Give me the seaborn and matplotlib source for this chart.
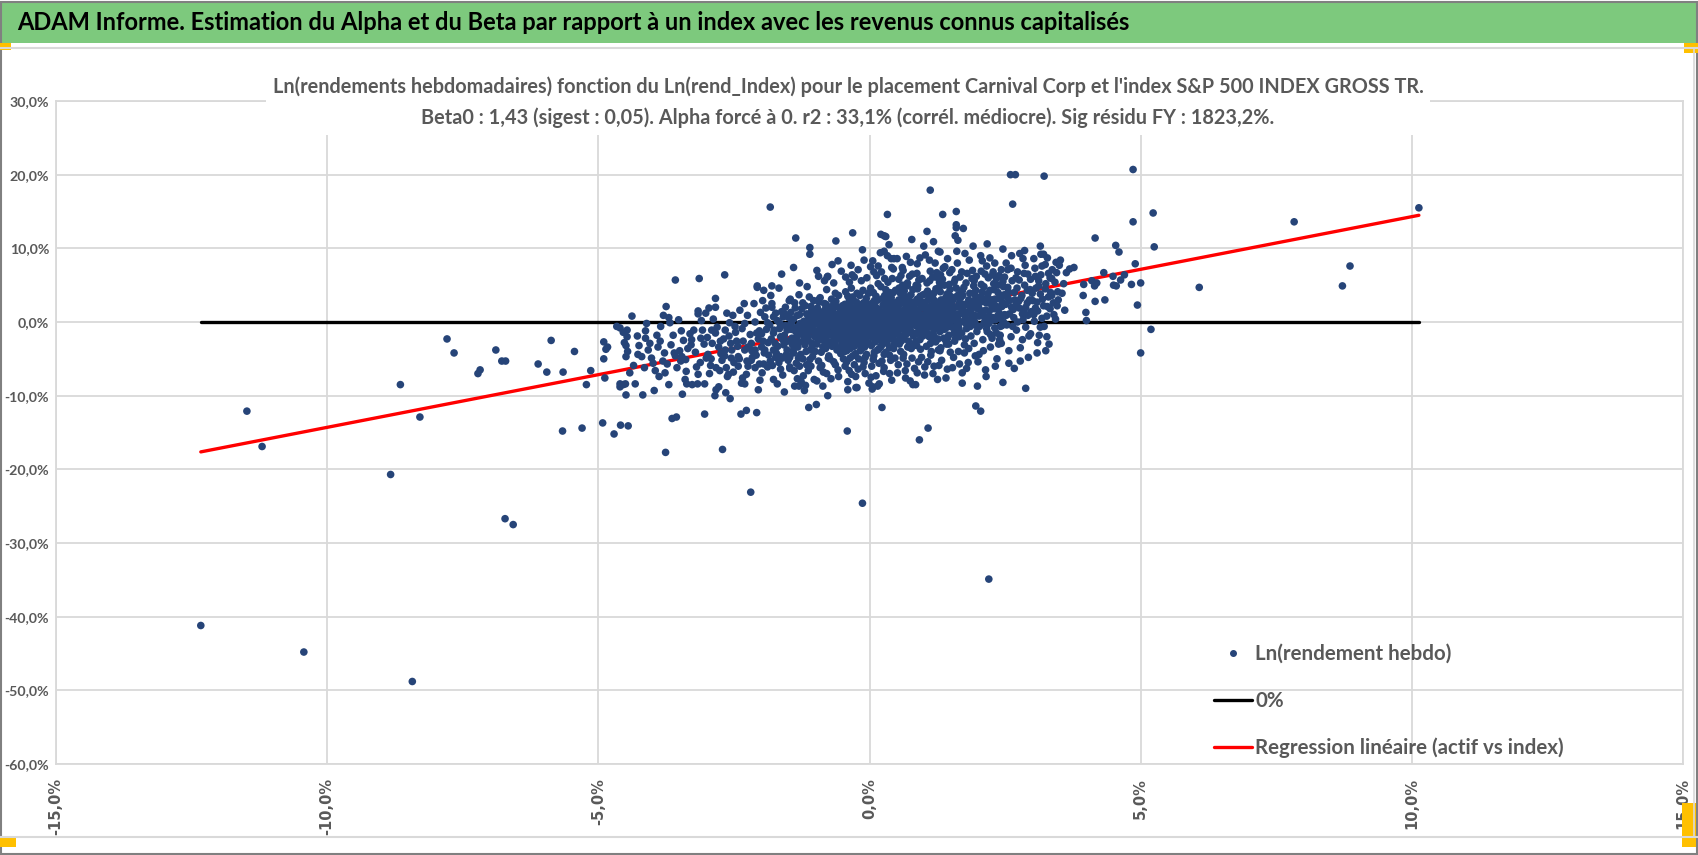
import matplotlib
matplotlib.use('Agg')
import matplotlib.pyplot as plt
import seaborn as sns
import pandas as pd
from matplotlib.patches import Rectangle
from matplotlib.lines import Line2D
from matplotlib.ticker import FuncFormatter, MultipleLocator

sns.set_theme(style='white')
plt.rcParams['font.family'] = ['Lato', 'DejaVu Sans']

# weekly log returns in %, (index, asset)
left_tail = [
    (-12.33, -41.2), (-10.43, -44.8), (-8.43, -48.8), (-11.48, -12.1), (-11.20, -16.9),
    (-8.83, -20.7), (-8.65, -8.5), (-8.29, -12.9), (-7.79, -2.3), (-7.66, -4.2),
    (-7.22, -7.0), (-7.18, -6.5), (-6.89, -3.8), (-6.78, -5.3), (-6.71, -5.3),
    (-6.72, -26.7), (-6.57, -27.5), (-6.11, -5.7), (-5.95, -6.8), (-5.87, -2.5),
    (-5.65, -6.8), (-5.66, -14.8), (-5.44, -4.0), (-5.30, -14.4), (-5.22, -8.5),
    (-5.14, -6.6), (-4.92, -13.7), (-4.90, -2.7), (-4.90, -5.0), (-4.88, -7.6),
    (-4.86, -3.7), (-4.83, -3.4), (-4.71, -15.2), (-4.66, -0.6), (-4.60, -0.8),
    (-4.59, -14.0), (-4.60, -8.4), (-4.60, -8.8), (-4.54, -8.5), (-4.54, -1.4),
    (-4.52, -2.8), (-4.49, -3.2), (-4.49, -4.7), (-4.49, -9.9), (-4.47, -1.1),
    (-4.47, -2.0), (-4.46, -4.0), (-4.45, -14.1),
]

right_tail = [
    (4.86, 20.7), (10.13, 15.5), (7.83, 13.6), (5.23, 14.8), (4.86, 13.6), (5.25, 10.2),
    (4.16, 11.4), (4.54, 10.4), (4.60, 9.5), (8.86, 7.6), (8.72, 4.9), (6.08, 4.7),
    (4.90, 7.9), (5.00, 5.3), (4.83, 5.1), (4.94, 2.3), (5.19, -1.0), (5.00, -4.2),
    (4.70, 6.4), (4.63, 5.7), (4.49, 6.2), (4.50, 5.0), (4.55, 4.9), (4.32, 6.7),
    (4.34, 3.0), (4.16, 2.8), (4.15, 4.9), (4.19, 5.3), (4.10, 5.6), (3.95, 5.1),
    (3.94, 3.6), (3.99, 1.3), (4.00, 0.2), (3.77, 7.4), (3.69, 7.2), (3.63, 6.7),
    (3.44, 8.1), (3.47, 4.1), (3.48, 3.0), (3.43, 0.4),
]

upper_fringe = [
    (2.60, 20.0), (2.69, 20.0), (3.22, 19.8), (2.64, 16.0), (1.12, 17.9), (-1.83, 15.6),
    (0.33, 14.6), (1.35, 14.6), (1.60, 15.0), (1.60, 13.2), (1.60, 12.8), (1.73, 12.7),
    (-1.36, 11.4), (-0.62, 11.0), (-0.31, 12.1), (0.21, 11.9), (0.27, 11.7), (0.30, 11.6),
    (0.78, 11.2), (1.06, 12.3), (1.58, 11.7), (1.63, 11.1), (-1.10, 10.1), (-1.10, 9.2),
    (-1.40, 7.4), (0.20, 9.4), (0.27, 9.6), (0.40, 8.6), (0.45, 8.6), (1.00, 10.3),
    (1.27, 9.6), (1.30, 9.5), (1.91, 10.3), (2.17, 10.6), (3.15, 10.3), (3.16, 9.2),
    (-3.58, 5.7), (-3.14, 5.9), (-2.67, 6.4), (-2.07, 4.7), (-1.67, 4.6), (-0.94, 6.2),
    (-0.77, 6.2), (-0.44, 6.1), (-0.28, 6.1), (-0.10, 8.4),
]

upper_mid = [
    (-0.97, 7.0), (-0.83, 5.6), (-0.69, 7.8), (-0.52, 6.9), (-0.37, 5.4), (-0.21, 7.1),
    (-0.05, 6.0), (0.08, 6.8), (0.16, 7.6), (0.28, 5.9), (0.41, 7.4), (0.51, 8.6),
    (0.58, 6.3), (0.68, 8.9), (0.79, 6.5), (0.88, 7.9), (0.97, 5.9), (1.03, 9.1),
    (1.12, 6.9), (1.21, 8.0), (1.31, 6.4), (1.44, 8.6), (1.52, 7.1), (1.61, 9.6),
    (1.70, 6.8), (1.84, 8.4), (1.97, 6.2), (2.05, 9.0), (2.16, 7.6), (2.31, 8.0),
    (2.39, 6.3), (2.55, 7.1), (2.62, 9.0), (2.70, 6.0), (2.83, 8.6), (2.92, 6.5),
    (3.05, 7.3), (3.12, 5.6), (3.24, 7.8), (3.36, 5.9), (3.45, 6.7), (3.52, 8.4),
    (3.58, 5.2), (-1.29, 5.3), (-1.62, 6.5),
    (-0.58, 8.3), (-0.13, 9.8), (0.36, 10.5), (0.62, 7.0), (0.93, 8.7), (1.18, 10.9),
    (1.48, 6.7), (1.76, 9.3), (2.08, 8.3), (2.46, 9.9), (2.86, 9.7), (3.28, 8.7),
    (0.02, 7.5), (-0.34, 7.7), (1.36, 7.3),
]

lower_fringe = [
    (-4.18, -9.9), (-4.50, -8.4), (-4.32, -8.4), (-3.70, -8.5), (-3.37, -8.4), (-3.27, -8.5),
    (-3.17, -8.4), (-2.85, -10.0), (-2.83, -9.2), (-2.57, -10.4), (-2.30, -8.4), (-1.70, -8.4),
    (-1.38, -8.7), (-1.30, -8.7), (-1.20, -9.3), (-1.18, -8.6), (-0.77, -10.0), (-0.40, -9.2),
    (-0.25, -8.9), (-0.23, -8.9), (0.05, -9.1), (0.06, -8.8), (0.80, -8.5), (0.85, -8.5),
    (1.99, -8.7), (2.88, -9.0), (2.46, -8.2), (1.71, -8.3), (-3.76, -17.7), (-3.64, -13.1),
    (-3.56, -12.9), (-3.04, -12.5), (-2.71, -17.3), (-2.37, -12.5), (-2.27, -12.0),
    (-2.08, -12.3), (-2.19, -23.1), (-1.12, -11.6), (-0.98, -11.2), (-0.41, -14.8),
    (-0.13, -24.6), (0.23, -11.6), (0.92, -16.0), (1.08, -14.4), (1.96, -11.4),
    (2.05, -12.1), (2.20, -34.9), (-3.04, -8.4), (-0.86, -8.7), (0.15, -8.7),
]

lower_mid = [
    (-2.93, -5.9), (-2.76, -6.6), (-2.55, -4.9), (-2.34, -7.6), (-2.18, -5.2), (-2.02, -7.9),
    (-1.88, -6.1), (-1.73, -4.8), (-1.60, -7.2), (-1.47, -6.1), (-1.33, -7.7), (-1.23, -5.0),
    (-1.13, -6.6), (-1.02, -7.8), (-0.91, -6.2), (-0.79, -7.0), (-0.66, -5.4), (-0.57, -7.4),
    (-0.45, -6.0), (-0.33, -7.1), (-0.21, -6.4), (-0.08, -7.0), (0.04, -6.0), (0.12, -7.3),
    (0.27, -6.2), (0.41, -7.9), (0.53, -5.8), (0.66, -6.6), (0.75, -8.0), (0.88, -6.9),
    (1.02, -6.1), (1.17, -7.0), (1.28, -5.9), (1.41, -7.6), (1.55, -4.8), (1.66, -5.7),
    (1.79, -6.3), (2.00, -5.4), (2.15, -7.4), (2.32, -6.0), (2.57, -3.9), (2.78, -5.3),
    (3.10, -2.8), (3.25, -3.9),
]

mid_left = [
    (-2.07, 4.9), (-1.95, 4.3), (-1.80, 4.9), (-2.84, 3.2), (-2.84, 2.0), (-2.96, 1.9),
    (-3.02, 1.2), (-3.16, 1.5), (-3.16, 1.1), (-3.75, 2.1), (-3.80, 0.9), (-3.70, 0.6),
    (-2.31, 2.5), (-2.13, 2.5), (-1.97, 2.9), (-1.80, 2.5), (-1.80, 2.0), (-1.55, 2.0),
    (-2.63, 1.2), (-2.52, 0.9), (-4.13, -1.2), (-4.13, -2.2), (-4.25, -3.2), (-4.08, -3.8),
    (-4.20, -4.7), (-3.95, -6.6), (-3.16, -7.1), (-3.43, -2.5), (-3.28, -2.4), (-3.24, -1.1),
    (-3.08, -1.1), (-3.46, -4.7), (-3.60, -4.2), (-3.78, -4.2), (-3.81, -5.3), (-3.48, -5.3),
    (-2.95, -7.0), (-2.78, -8.8), (-2.60, -7.1), (-2.62, -7.4), (-2.42, -6.0), (-2.36, -8.3),
    (-2.24, -6.0), (-2.11, -6.2), (-1.95, -5.7), (-1.83, -5.3), (-1.64, -6.4), (-1.77, -7.8),
    (-1.29, -6.0), (-1.26, -8.1), (-2.90, -2.9), (-2.78, -3.4), (-2.66, -3.8), (-2.54, -3.8),
    (-2.42, -4.7), (-2.30, -3.8), (-2.24, -3.4), (-2.11, -3.8), (-1.99, -3.4), (-1.93, -3.8),
    (-2.84, -1.5), (-2.66, -1.1), (-2.48, -0.6), (-2.30, -0.2), (-2.11, 0.0), (-1.77, -1.5),
    (-1.64, -2.0), (-1.52, -1.1), (-1.46, -0.4), (-1.40, -2.5), (-1.28, -1.5), (-1.52, -3.8),
    (-1.40, -4.2), (-1.64, -4.7), (-1.77, -3.8), (-1.93, 0.7), (-1.77, 0.7), (-1.59, 0.7),
    (-4.35, -5.9), (-4.05, -2.9), (-3.92, -1.8), (-3.88, -7.4), (-3.66, -3.1), (-3.55, -6.2),
    (-3.52, 0.3), (-3.40, -7.8), (-3.35, -3.6), (-3.12, -5.5), (-3.05, -3.0), (-2.98, -4.4),
    (-2.88, 0.4), (-2.72, -5.2), (-2.69, -2.3), (-2.58, -0.1), (-2.50, -5.5), (-2.45, -2.6),
    (-2.39, 1.6), (-2.27, -7.1), (-2.20, -1.7), (-2.16, -4.8), (-2.05, -2.3), (-2.01, 1.3),
    (-1.98, -6.9), (-1.90, -1.0), (-1.86, -4.5), (-1.82, 3.6), (-1.74, -2.9), (-1.70, 0.2),
    (-1.67, -5.5), (-1.62, 1.4), (-1.58, -3.1), (-1.55, -0.5), (-1.50, -5.2), (-1.48, 2.9),
    (-4.42, -6.9), (-4.28, -1.9), (-4.15, -6.2), (-4.02, -4.9), (-3.90, -3.4), (-3.85, -0.6),
    (-3.73, -5.7), (-3.62, -1.8), (-3.50, -3.9), (-3.38, -6.7), (-3.31, -1.6), (-3.21, -4.1),
    (-3.10, 0.2), (-2.99, -2.1), (-2.92, -5.0), (-2.81, -0.7), (-2.74, -4.3), (-2.64, -6.2),
    (-2.56, -2.9), (-2.47, -1.4), (-2.40, -5.0), (-2.33, -2.6), (-2.25, 0.9), (-2.18, -2.9),
    (-2.09, -4.5), (-2.03, -1.2), (-1.96, -2.6), (-1.88, -0.1), (-1.81, -2.3), (-1.72, -4.2),
    (-1.66, -0.9), (-1.60, -2.4), (-1.53, -4.4), (-1.49, 0.6), (-3.97, -9.3), (-3.45, -9.8),
    (-2.65, -9.6), (-2.05, -9.2), (-1.57, -9.5), (-4.38, 0.8),
    (-4.27, -4.4), (-4.11, -0.2), (-3.99, -5.6), (-3.86, -2.6), (-3.77, -6.9), (-3.68, -0.1),
    (-3.58, -4.6), (-3.47, -1.2), (-3.39, -5.1), (-3.29, -3.1), (-3.19, -6.1), (-3.11, -2.2),
    (-3.01, -4.9), (-2.91, -1.1), (-2.83, -6.2), (-2.75, -2.6), (-2.67, -4.6), (-2.59, -1.9),
    (-2.51, -6.8), (-2.43, -3.3), (-2.35, -0.9), (-2.26, -5.3), (-2.17, -3.9), (-2.08, -1.5),
    (-2.03, -5.7),
]

core_a = [
    (-1.48, -0.6), (-1.45, 1.3), (-1.43, -2.2), (-1.41, -3.9), (-1.40, 0.4), (-1.38, 2.6),
    (-1.36, -1.3), (-1.35, -5.6), (-1.33, 0.9), (-1.31, -2.8), (-1.30, 3.7), (-1.28, -0.2),
    (-1.27, -4.4), (-1.25, 1.8), (-1.24, -1.7), (-1.22, -7.3), (-1.21, 0.1), (-1.19, -3.1),
    (-1.18, 2.2), (-1.16, -0.9), (-1.15, 4.8), (-1.13, -2.5), (-1.12, 0.6), (-1.10, -5.1),
    (-1.09, -1.1), (-1.07, 1.5), (-1.06, -3.5), (-1.04, -0.4), (-1.03, 2.9), (-1.01, -2.0),
    (-1.47, -4.8), (-1.44, -1.0), (-1.39, -6.6), (-1.34, -0.7), (-1.29, 1.0), (-1.23, -2.6),
    (-1.17, -4.0), (-1.14, 0.3), (-1.08, -6.0), (-1.02, 0.8), (-1.46, 3.1), (-1.32, -3.4),
    (-1.20, -1.5), (-1.11, 3.4), (-1.05, -4.7),
    (-1.99, -1.6), (-1.94, -4.2), (-1.91, 1.9), (-1.87, -2.8), (-1.84, -0.4), (-1.79, -5.9),
    (-1.76, -1.1), (-1.73, 1.2), (-1.69, -3.3), (-1.65, -0.2), (-1.61, -4.9), (-1.57, -1.8),
    (-1.54, 1.0), (-1.51, -2.6), (-1.47, -6.3), (-1.44, -0.1), (-1.42, -3.1), (-1.37, 1.9),
    (-1.34, -2.0), (-1.31, -4.9), (-1.26, -0.9), (-1.23, 2.6), (-1.19, -2.2), (-1.16, -5.8),
    (-1.12, -0.1), (-1.09, -3.8), (-1.05, 1.2), (-1.02, -1.4),
]

core_b = [
    (-0.99, -1.2), (-0.98, 0.5), (-0.97, -3.0), (-0.96, 1.9), (-0.95, -0.3), (-0.94, -5.3),
    (-0.93, 0.9), (-0.92, -1.9), (-0.91, 3.3), (-0.90, -0.8), (-0.89, -4.1), (-0.88, 0.2),
    (-0.87, -2.4), (-0.86, 1.4), (-0.85, -6.8), (-0.84, -0.5), (-0.83, 2.5), (-0.82, -1.5),
    (-0.81, -3.6), (-0.80, 0.6), (-0.79, 4.4), (-0.78, -0.9), (-0.77, -2.7), (-0.76, 1.1),
    (-0.75, -4.6), (-0.74, -0.1), (-0.73, 2.0), (-0.72, -1.7), (-0.71, -7.7), (-0.70, 0.4),
    (-0.69, -3.3), (-0.68, 1.6), (-0.67, -0.6), (-0.66, 5.3), (-0.65, -2.1), (-0.64, 0.0),
    (-0.63, -5.8), (-0.62, 2.8), (-0.61, -1.0), (-0.60, -3.8), (-0.59, 0.8), (-0.58, -0.4),
    (-0.57, 3.6), (-0.56, -2.3), (-0.55, -1.3), (-0.54, 1.3), (-0.53, -4.3), (-0.52, 0.1),
    (-0.51, -2.9), (-0.50, 2.2), (-0.97, -8.0), (-0.93, 2.7), (-0.88, -5.9), (-0.83, -3.2),
    (-0.78, 6.1), (-0.73, -5.0), (-0.68, -2.6), (-0.63, 3.9), (-0.58, -6.5), (-0.53, -1.6),
    (-0.95, -2.5), (-0.85, 0.0), (-0.75, 1.7), (-0.65, -1.1), (-0.55, 0.5),
]

core_c = [
    (-0.49, -0.7), (-0.48, 1.0), (-0.475, -2.2), (-0.47, 0.3), (-0.46, -4.0), (-0.455, 2.4),
    (-0.45, -1.3), (-0.44, -0.1), (-0.435, -3.1), (-0.43, 1.6), (-0.42, -5.4), (-0.415, 0.6),
    (-0.41, -1.9), (-0.40, 3.5), (-0.395, -0.4), (-0.39, -2.7), (-0.38, 0.9), (-0.375, -6.6),
    (-0.37, -1.0), (-0.36, 2.0), (-0.355, -3.6), (-0.35, 0.2), (-0.34, -1.6), (-0.335, 4.6),
    (-0.33, -0.6), (-0.32, -2.4), (-0.315, 1.3), (-0.31, -4.6), (-0.30, -0.2), (-0.295, 2.9),
    (-0.29, -1.2), (-0.28, -3.3), (-0.275, 0.7), (-0.27, -0.5), (-0.26, 1.8), (-0.255, -7.4),
    (-0.25, -2.0), (-0.24, 0.4), (-0.235, -1.4), (-0.23, 3.9), (-0.22, -0.8), (-0.215, -2.9),
    (-0.21, 1.1), (-0.20, -5.0), (-0.195, 0.0), (-0.19, 2.3), (-0.18, -1.8), (-0.175, -0.3),
    (-0.17, -3.9), (-0.16, 1.5), (-0.155, -1.1), (-0.15, 5.6), (-0.14, -0.4), (-0.135, -2.5),
    (-0.13, 0.8), (-0.12, -6.1), (-0.115, -0.9), (-0.11, 2.6), (-0.10, -1.5), (-0.095, 0.3),
    (-0.09, -3.4), (-0.08, 1.2), (-0.075, -0.6), (-0.07, -2.2), (-0.06, 3.2), (-0.055, -4.4),
    (-0.05, 0.5), (-0.04, -1.3), (-0.035, 1.9), (-0.03, -0.2), (-0.02, -2.8), (-0.015, 0.9),
    (-0.01, -8.3), (-0.48, -3.7), (-0.44, 4.1), (-0.40, -8.1), (-0.36, -4.9), (-0.32, 6.4),
    (-0.28, -5.8), (-0.24, 2.7), (-0.20, -3.0), (-0.16, -0.7), (-0.12, 4.3), (-0.08, -4.8),
    (-0.04, 2.4), (-0.46, 0.0), (-0.38, -2.0), (-0.30, 1.6), (-0.22, -0.1), (-0.14, -2.9),
    (-0.06, -0.9),
]

core_d = [
    (0.01, 0.2), (0.015, -1.6), (0.02, 1.4), (0.03, -0.5), (0.035, -3.2), (0.04, 2.5),
    (0.05, -0.9), (0.055, 0.7), (0.06, -2.1), (0.07, 4.0), (0.075, -0.1), (0.08, -4.6),
    (0.09, 1.1), (0.095, -1.3), (0.10, 0.4), (0.11, -2.7), (0.115, 2.0), (0.12, -0.6),
    (0.13, 6.3), (0.135, -1.9), (0.14, 0.9), (0.15, -3.8), (0.155, 0.0), (0.16, 3.0),
    (0.17, -1.0), (0.175, -5.6), (0.18, 1.7), (0.19, -0.3), (0.20, -2.4), (0.205, 0.6),
    (0.21, 4.8), (0.22, -1.5), (0.225, 1.3), (0.23, -3.1), (0.24, 0.1), (0.25, 2.3),
    (0.255, -0.8), (0.26, -6.7), (0.27, 1.0), (0.275, -2.0), (0.28, 3.6), (0.29, -0.4),
    (0.30, -4.1), (0.305, 0.8), (0.31, 1.9), (0.32, -1.2), (0.325, -2.9), (0.33, 0.3),
    (0.34, 5.4), (0.345, -0.7), (0.35, 2.7), (0.36, -1.8), (0.365, 0.5), (0.37, -3.5),
    (0.38, 1.5), (0.385, -0.2), (0.39, -5.2), (0.40, 3.3), (0.405, -1.1), (0.41, 0.9),
    (0.42, -2.3), (0.43, 2.1), (0.435, -0.5), (0.44, 7.2), (0.45, -1.4), (0.455, 1.2),
    (0.46, -3.0), (0.47, 0.2), (0.48, 4.3), (0.485, -0.9), (0.49, 1.8), (0.495, -2.6),
    (0.03, -7.5), (0.07, -5.1), (0.12, 3.5), (0.17, -3.7), (0.22, 6.8), (0.27, -4.4),
    (0.32, 2.9), (0.37, -7.0), (0.42, 5.9), (0.47, -4.9), (0.05, 2.0), (0.10, -1.9),
    (0.15, 1.4), (0.20, -0.7), (0.25, -1.6), (0.30, 0.6), (0.35, -0.3), (0.40, 1.2),
    (0.45, 0.0), (0.06, 8.3), (0.33, 9.0), (0.18, -8.4),
]

core_e = [
    (0.51, 0.6), (0.52, -1.4), (0.53, 2.2), (0.54, -0.3), (0.55, -3.0), (0.56, 1.2),
    (0.57, 3.9), (0.58, -0.9), (0.59, 0.3), (0.60, -2.1), (0.61, 5.0), (0.62, 0.9),
    (0.63, -4.4), (0.64, 1.7), (0.65, -0.6), (0.66, 2.8), (0.67, -1.7), (0.68, 0.1),
    (0.69, -5.7), (0.70, 3.4), (0.71, 1.0), (0.72, -2.6), (0.73, 0.5), (0.74, 6.2),
    (0.75, -1.1), (0.76, 2.0), (0.77, -3.6), (0.78, 1.4), (0.79, -0.2), (0.80, 4.4),
    (0.81, -1.9), (0.82, 0.8), (0.83, -6.3), (0.84, 2.5), (0.85, -0.5), (0.86, 1.6),
    (0.87, -3.2), (0.88, 3.1), (0.89, 0.2), (0.90, -1.3), (0.91, 5.7), (0.92, 1.1),
    (0.93, -2.4), (0.94, 0.4), (0.95, 2.3), (0.96, -4.8), (0.97, 1.9), (0.98, -0.8),
    (0.99, 3.7), (0.515, -6.9), (0.545, 4.6), (0.575, -4.0), (0.605, 7.4), (0.635, -2.3),
    (0.665, -7.6), (0.695, 4.9), (0.725, -0.4), (0.755, 8.1), (0.785, -4.9), (0.815, 2.7),
    (0.845, -2.8), (0.875, 6.6), (0.905, -5.4), (0.935, 3.5), (0.965, -1.0), (0.525, 1.6),
    (0.585, 2.6), (0.645, 0.0), (0.705, -1.0), (0.765, 0.6), (0.825, -0.3), (0.885, 1.5),
    (0.945, -0.1), (0.555, -1.9), (0.615, -0.7), (0.675, 1.9), (0.735, 2.9), (0.795, 1.0),
    (0.855, -1.6),
]

core_f = [
    (1.01, 1.0), (1.02, -1.2), (1.03, 2.7), (1.04, 0.2), (1.05, -3.3), (1.06, 1.6),
    (1.07, 4.2), (1.08, -0.5), (1.09, 0.8), (1.10, -2.0), (1.11, 5.6), (1.12, 1.3),
    (1.13, -4.5), (1.14, 2.2), (1.15, -0.1), (1.16, 3.4), (1.17, -1.6), (1.18, 0.6),
    (1.19, -6.0), (1.20, 2.9), (1.21, 1.8), (1.22, -2.7), (1.23, 0.3), (1.24, 6.7),
    (1.25, -0.8), (1.26, 2.4), (1.27, -3.8), (1.28, 1.1), (1.29, 4.8), (1.30, -1.3),
    (1.31, 0.5), (1.32, 3.0), (1.33, -5.2), (1.34, 1.9), (1.35, -0.4), (1.36, 2.6),
    (1.37, -2.2), (1.38, 0.9), (1.39, 7.5), (1.40, -0.9), (1.41, 1.5), (1.42, -3.0),
    (1.43, 3.8), (1.44, 0.0), (1.45, 2.1), (1.46, -1.8), (1.47, 5.1), (1.48, 0.7),
    (1.49, -4.1), (1.015, -7.2), (1.045, 3.9), (1.075, -5.4), (1.105, 8.4), (1.135, -0.7),
    (1.165, 6.1), (1.195, -2.4), (1.225, 4.5), (1.255, -7.8), (1.285, 2.0), (1.315, -3.5),
    (1.345, 5.8), (1.375, -1.0), (1.405, 3.3), (1.435, -6.4), (1.465, 1.2), (1.495, 2.8),
    (1.035, 0.0), (1.095, 1.5), (1.155, 1.0), (1.215, -0.3), (1.275, 0.1), (1.335, 1.4),
    (1.395, -0.1), (1.455, 0.4),
]

core_g = [
    (1.51, 1.3), (1.52, -0.7), (1.54, 3.0), (1.55, 0.4), (1.57, -2.6), (1.58, 2.0),
    (1.60, 4.6), (1.61, -0.2), (1.63, 1.1), (1.64, -4.0), (1.66, 2.6), (1.67, 6.1),
    (1.69, 0.0), (1.70, -1.5), (1.72, 3.6), (1.73, 1.6), (1.75, -3.1), (1.76, 0.8),
    (1.78, 5.3), (1.79, -0.9), (1.81, 2.3), (1.82, -5.5), (1.84, 1.4), (1.85, 3.9),
    (1.87, -1.9), (1.88, 0.5), (1.90, 7.0), (1.91, 2.8), (1.93, -2.9), (1.94, 0.9),
    (1.96, 4.3), (1.97, -0.5), (1.99, 1.8), (1.53, -6.2), (1.56, 5.4), (1.59, -1.2),
    (1.62, 8.0), (1.65, -2.0), (1.68, 3.3), (1.71, -6.9), (1.74, 2.4), (1.77, -0.1),
    (1.80, 6.6), (1.83, -3.6), (1.86, 2.1), (1.89, -0.3), (1.92, 4.9), (1.95, -4.6),
    (1.98, 3.1), (1.515, 2.5), (1.575, 0.9), (1.635, -0.6), (1.695, 1.9), (1.755, 1.0),
    (1.815, 0.2), (1.875, 1.2), (1.935, 2.5),
]

core_h = [
    (2.01, 2.0), (2.03, -0.6), (2.05, 3.4), (2.07, 1.0), (2.09, -2.4), (2.11, 4.8),
    (2.13, 0.2), (2.15, 2.6), (2.17, -1.3), (2.19, 6.0), (2.21, 1.5), (2.23, -3.4),
    (2.25, 3.0), (2.27, 0.6), (2.29, 5.2), (2.31, -0.8), (2.33, 2.2), (2.35, -5.0),
    (2.37, 4.0), (2.39, 1.2), (2.41, -1.8), (2.43, 7.1), (2.45, 2.7), (2.47, 0.0),
    (2.49, 3.7), (2.02, -4.4), (2.06, 6.9), (2.10, 0.9), (2.14, -6.5), (2.18, 3.8),
    (2.22, 8.7), (2.26, -2.2), (2.30, 1.8), (2.34, 5.9), (2.38, -3.0), (2.42, 0.4),
    (2.46, 5.5), (2.04, 1.6), (2.12, 2.9), (2.20, -0.2), (2.28, 2.4), (2.36, 0.8),
    (2.44, -0.5),
    (2.02, 3.0), (2.06, 5.1), (2.09, 1.4), (2.13, 6.5), (2.16, -0.9), (2.19, 2.6),
    (2.22, 4.3), (2.25, 0.2), (2.28, 6.8), (2.31, 3.1), (2.34, -1.5), (2.37, 5.0),
    (2.40, 2.0), (2.43, -2.9), (2.46, 3.6), (2.49, 6.1),
]

core_i = [
    (2.51, 2.4), (2.53, -0.4), (2.56, 4.1), (2.58, 1.1), (2.61, -2.0), (2.63, 5.6),
    (2.66, 0.6), (2.68, 3.0), (2.71, -1.1), (2.73, 6.8), (2.76, 1.9), (2.78, -3.5),
    (2.81, 3.6), (2.83, 0.3), (2.86, 5.0), (2.88, -0.7), (2.91, 2.6), (2.93, -4.8),
    (2.96, 4.4), (2.98, 1.4), (2.52, 8.0), (2.57, -5.6), (2.62, 2.0), (2.67, -6.3),
    (2.72, 4.6), (2.77, 9.3), (2.82, -2.4), (2.87, 7.7), (2.92, 0.9), (2.97, -1.6),
    (2.55, 3.3), (2.65, 1.7), (2.75, 2.8), (2.85, 1.5), (2.95, 3.0),
    (3.01, 2.9), (3.04, 0.1), (3.07, 4.6), (3.10, 1.5), (3.13, -1.8), (3.16, 6.4),
    (3.19, 3.1), (3.22, -0.6), (3.25, 5.2), (3.28, 2.1), (3.31, -3.0), (3.34, 4.0),
    (3.37, 7.1), (3.40, 1.0), (3.03, 8.6), (3.09, -4.2), (3.15, 3.8), (3.21, 9.2),
    (3.27, -2.0), (3.33, 6.0), (3.39, 2.6), (3.06, 1.9), (3.18, 0.5), (3.30, 3.4),
    (2.52, 0.9), (2.55, 4.7), (2.58, 2.9), (2.61, 7.3), (2.64, -0.6), (2.67, 4.0),
    (2.70, 2.3), (2.73, 0.0), (2.76, 5.7), (2.79, 3.2), (2.82, 1.1), (2.85, 6.6),
    (2.88, 2.0), (2.91, 4.3), (2.94, -1.9), (2.97, 5.8), (3.00, 3.9), (3.03, 1.0),
    (3.06, 6.2), (3.09, 2.7), (3.12, 4.9), (3.15, -0.7), (3.18, 7.6), (3.21, 2.2),
    (3.24, 4.5), (3.27, 0.8), (3.30, 6.6), (3.33, 1.8), (3.36, 3.6), (3.42, 5.4),
    (3.46, 2.2), (3.50, 7.7), (3.55, 3.9), (3.60, 1.6),
]

core_dense = [
    (-1.19, -0.3), (-1.16, 1.1), (-1.13, -1.9), (-1.11, -0.6), (-1.08, 2.1), (-1.06, -2.9),
    (-1.03, 0.4), (-1.00, -4.0), (-0.98, 1.6), (-0.96, -1.5), (-0.94, 3.0), (-0.92, -0.2),
    (-0.90, -2.2), (-0.88, 1.2), (-0.86, -3.4), (-0.84, 0.7), (-0.82, -0.9), (-0.80, 2.4),
    (-0.78, -1.9), (-0.76, -4.9), (-0.74, 0.9), (-0.72, -0.5), (-0.70, 3.1), (-0.68, -1.4),
    (-0.66, 0.3), (-0.64, -2.9), (-0.62, 1.0), (-0.60, -0.2), (-0.58, 2.0), (-0.56, -3.5),
    (-0.54, -0.8), (-0.52, 1.5), (-0.49, -1.7), (-0.47, 2.0), (-0.45, -0.4), (-0.43, -2.5),
    (-0.41, 0.9), (-0.39, -1.1), (-0.37, 3.0), (-0.35, -0.8), (-0.33, -3.2), (-0.31, 0.4),
    (-0.29, 1.9), (-0.27, -1.8), (-0.25, 0.1), (-0.23, -2.6), (-0.21, 2.4), (-0.19, -0.6),
    (-0.17, 1.0), (-0.15, -3.7), (-0.13, -1.2), (-0.11, 0.6), (-0.09, -0.4), (-0.07, 2.2),
    (-0.05, -2.0), (-0.03, 0.2), (-0.01, -1.0), (-0.48, -5.0), (-0.42, -3.9), (-0.34, 2.7),
    (-0.26, -4.3), (-0.18, 3.6), (-0.10, -5.5), (-0.02, 3.9), (0.005, -0.4), (0.025, 1.8),
    (0.045, -1.7), (0.065, 0.5), (0.085, -0.7), (0.105, 2.7), (0.125, -2.4), (0.145, 0.2),
    (0.165, 1.6), (0.185, -1.2), (0.205, -3.4), (0.225, 0.4), (0.245, 3.2), (0.265, -0.5),
    (0.285, 1.3), (0.305, -2.2), (0.325, 2.2), (0.345, -1.0), (0.365, 4.0), (0.385, 0.6),
    (0.405, -1.7), (0.425, 1.0), (0.445, -3.6), (0.465, 2.6), (0.485, 0.0), (0.02, 4.6),
    (0.09, -4.1), (0.16, 5.2), (0.23, -5.3), (0.30, 4.4), (0.37, -4.5), (0.44, 4.0),
    (0.505, 1.0), (0.525, -0.8), (0.545, 2.4), (0.565, 0.0), (0.585, -2.6), (0.605, 1.3),
    (0.625, 3.3), (0.645, -1.2), (0.665, 0.7), (0.685, 2.1), (0.705, -3.4), (0.725, 1.6),
    (0.745, -0.5), (0.765, 3.7), (0.785, 0.3), (0.805, -1.5), (0.825, 2.0), (0.845, 0.6),
    (0.865, -2.6), (0.885, 4.5), (0.905, 1.0), (0.925, -0.7), (0.945, 2.8), (0.965, 0.1),
    (0.985, -1.9), (0.54, 5.8), (0.62, -4.9), (0.70, 5.3), (0.78, -3.3), (0.86, 5.0),
    (0.94, -3.7), (1.005, -0.2), (1.025, 2.0), (1.045, 0.5), (1.065, -1.5), (1.085, 3.0),
    (1.105, 0.9), (1.125, -2.9), (1.145, 1.7), (1.165, 0.0), (1.185, 3.9), (1.205, -1.0),
    (1.225, 1.2), (1.245, 2.6), (1.265, -2.3), (1.285, 0.4), (1.305, 4.1), (1.325, 1.6),
    (1.345, -0.9), (1.365, 2.3), (1.385, 0.2), (1.405, -2.5), (1.425, 3.2), (1.445, 1.0),
    (1.465, -0.6), (1.485, 4.4), (1.06, 5.3), (1.14, -4.0), (1.22, 6.1), (1.30, -3.9),
    (1.38, 5.0), (1.46, -3.0), (1.505, 0.1), (1.53, 2.2), (1.56, -1.5), (1.59, 3.4),
    (1.62, 0.6), (1.65, -0.9), (1.68, 2.0), (1.71, 4.2), (1.74, 0.1), (1.77, -2.3),
    (1.80, 1.2), (1.83, 3.0), (1.86, -0.6), (1.89, 1.9), (1.92, 0.3), (1.95, 3.6),
    (1.98, -1.3), (2.02, 0.8), (2.05, 2.7), (2.08, 4.1), (2.11, -0.2), (2.14, 1.6),
    (2.17, 3.3), (2.20, 0.7), (2.23, -1.7), (2.26, 2.2), (2.29, 4.4), (2.32, 0.3),
    (2.35, 1.9), (2.38, 3.2), (2.41, -0.6), (2.44, 2.1), (2.47, 4.8), (2.49, 1.0),
    (1.58, 5.8), (1.75, -4.2), (1.93, 5.6), (2.10, -3.9), (2.27, 6.4), (2.40, -2.4),
]

core_fill = [
    (-0.97, -2.0), (-0.91, 0.6), (-0.86, -1.1), (-0.81, 1.8), (-0.76, -3.0), (-0.71, -0.3),
    (-0.66, 2.4), (-0.61, -1.8), (-0.56, 0.2), (-0.51, -4.0), (-0.46, 1.3), (-0.41, -2.3),
    (-0.36, -0.9), (-0.31, 3.4), (-0.26, -1.0), (-0.21, 0.8), (-0.16, -2.0), (-0.11, 1.6),
    (-0.06, -3.0), (-0.01, 0.7), (0.04, -1.1), (0.09, 2.9), (0.14, -0.5), (0.19, 1.1),
    (0.24, -2.6), (0.29, 2.5), (0.34, -0.1), (0.39, 3.8), (0.44, -1.9), (0.49, 0.9),
    (0.54, 3.0), (0.59, -0.8), (0.64, 4.2), (0.69, 1.5), (0.74, -1.4), (0.79, 2.4),
    (0.84, 0.0), (0.89, 4.9), (0.94, -1.6), (0.99, 2.0), (1.04, -0.9), (1.09, 3.6),
    (1.14, 0.5), (1.19, -1.9), (1.24, 1.9), (1.29, 5.4), (1.34, 0.0), (1.39, 2.8),
    (1.44, -2.2), (1.49, 3.5), (1.54, 1.1), (1.59, -2.1), (1.64, 3.7), (1.69, 1.2),
    (1.74, 4.7), (1.79, -0.3), (1.84, 2.7), (1.89, 5.9), (1.94, 0.0), (1.99, 2.6),
]

beta0 = 1.43

header = "ADAM Informe. Estimation du Alpha et du Beta par rapport à un index avec les revenus connus capitalisés"
title_l1 = "Ln(rendements hebdomadaires) fonction du Ln(rend_Index) pour le placement Carnival Corp et l'index S&P 500 INDEX GROSS TR."
title_l2 = "Beta0 : 1,43 (sigest : 0,05). Alpha forcé à 0. r2 : 33,1% (corrél. médiocre). Sig résidu FY : 1823,2%."
legend_labels = ["Ln(rendement hebdo)", "0%", "Regression linéaire (actif vs index)"]

groups = [left_tail, right_tail, upper_fringe, upper_mid, lower_fringe, lower_mid, mid_left,
          core_a, core_b, core_c, core_d, core_e, core_f, core_g, core_h, core_i,
          core_dense, core_fill]
pts = pd.DataFrame([p for g in groups for p in g], columns=["rend_index", "rend_actif"])

W, H = 1698, 855
grey_txt = '#595959'
fig = plt.figure(figsize=(W / 100, H / 100), dpi=100)
fig.patch.set_facecolor('white')
ax = fig.add_axes([56 / W, 1 - 764 / H, (1683 - 56) / W, (764 - 101) / H])

x_lo, x_hi = pts.rend_index.min(), pts.rend_index.max()
sns.lineplot(x=[x_lo, x_hi], y=[0, 0], color='black', linewidth=2.4, ax=ax, zorder=2)
sns.lineplot(x=[x_lo, x_hi], y=[beta0 * x_lo, beta0 * x_hi], color='#FF0000',
             linewidth=2.4, ax=ax, zorder=2)
sns.scatterplot(data=pts, x="rend_index", y="rend_actif", s=30, color='#264478',
                edgecolor='none', linewidth=0, ax=ax, zorder=3, legend=False)

ax.set_xlim(-15, 15)
ax.set_ylim(-60, 30)
ax.xaxis.set_major_locator(MultipleLocator(5))
ax.yaxis.set_major_locator(MultipleLocator(10))
pct = FuncFormatter(lambda v, _: (f"{v:.1f}".replace('.', ',') + '%').replace('-0,0', '0,0'))
ax.xaxis.set_major_formatter(pct)
ax.yaxis.set_major_formatter(pct)
ax.grid(True, color='#D9D9D9', linewidth=1.3)
ax.set_axisbelow(True)
for sp in ax.spines.values():
    sp.set_color('#D9D9D9')
    sp.set_linewidth(1.3)
ax.set_xlabel('')
ax.set_ylabel('')
ax.tick_params(axis='both', length=0)
ax.tick_params(axis='x', pad=10)
ax.tick_params(axis='y', pad=5)
for lab in ax.get_xticklabels():
    lab.set_rotation(90)
    lab.set_family('DejaVu Sans')
    lab.set_fontweight('bold')
    lab.set_fontsize(10.5)
    lab.set_color(grey_txt)
for lab in ax.get_yticklabels():
    lab.set_fontweight('bold')
    lab.set_fontsize(10.2)
    lab.set_color(grey_txt)

handles = [
    Line2D([], [], marker='o', linestyle='none', color='#264478', markersize=4),
    Line2D([], [], color='black', linewidth=2.4),
    Line2D([], [], color='#FF0000', linewidth=2.4),
]
ax.legend(handles, legend_labels, loc='upper left', bbox_to_anchor=(1214 / W, 1 - 644 / H),
          bbox_transform=fig.transFigure, frameon=False, borderpad=0, borderaxespad=0,
          prop={'weight': 'bold', 'size': 14.8}, labelcolor=grey_txt,
          handlelength=1.85, handletextpad=0.15, labelspacing=1.3)

# header band and frame
fig.patches.append(Rectangle((0, 1 - 43 / H), 1, 40 / H, transform=fig.transFigure,
                             facecolor='#7DC97D', edgecolor='none', zorder=0))
fig.text(17 / W, 1 - 23 / H, header, ha='left', va='center', fontsize=17,
         fontweight='bold', color='black')
fig.text(848 / W, 1 - 102 / H, title_l1 + "\n" + title_l2, ha='center', va='center',
         fontsize=14.3, fontweight='bold', color=grey_txt, linespacing=1.65,
         bbox=dict(facecolor='white', edgecolor='none', pad=5))

fig.add_artist(Line2D([0, 1], [1 - 48 / H, 1 - 48 / H], color='#D9D9D9', linewidth=1.5))
fig.add_artist(Line2D([0, 1], [1 - 837 / H, 1 - 837 / H], color='#D9D9D9', linewidth=1.5))
fig.add_artist(Line2D([1694 / W, 1694 / W], [1 - 48 / H, 1 - 837 / H], color='#D9D9D9', linewidth=1.2))
fig.patches.append(Rectangle((0.0005, 0.001), 0.999, 0.997, transform=fig.transFigure,
                             facecolor='none', edgecolor='#808080', linewidth=1.5))
for (x0, y0, w, h) in [(0, 43, 11, 7), (1684, 43, 14, 10), (0, 838, 16, 9), (1682, 803, 14, 44)]:
    fig.patches.append(Rectangle((x0 / W, 1 - (y0 + h) / H), w / W, h / H,
                                 transform=fig.transFigure, facecolor='#FFC000', edgecolor='none'))

fig.savefig('out.png', dpi=100)
